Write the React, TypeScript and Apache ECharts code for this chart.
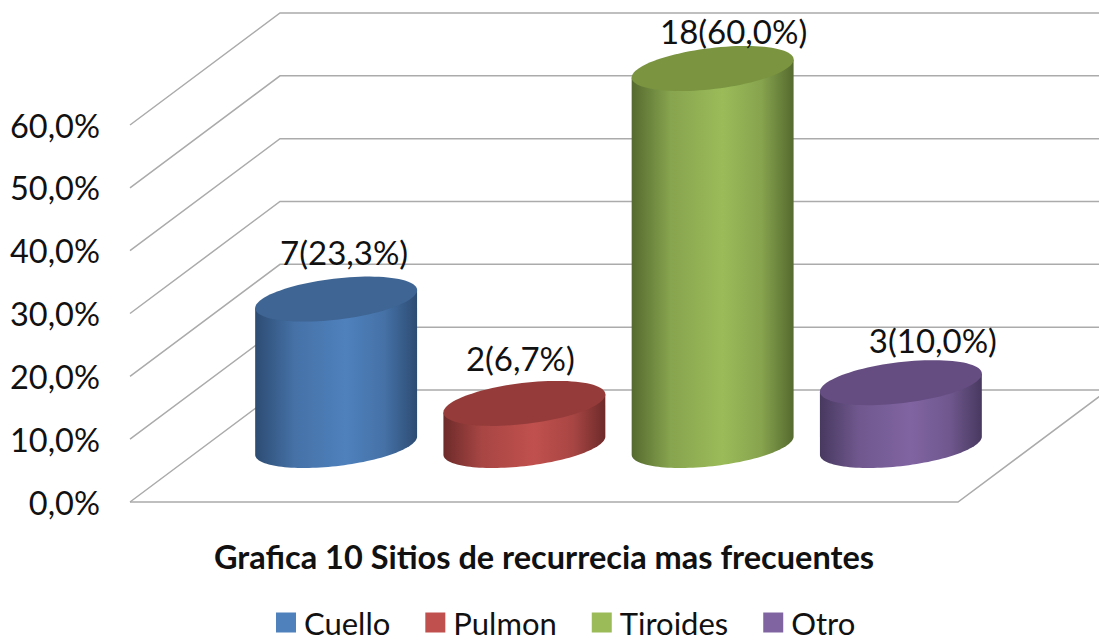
import React, { useEffect, useRef } from "react";
import * as echarts from "echarts";

const categories = ["Cuello", "Pulmon", "Tiroides", "Otro"];
const counts = [7, 2, 18, 3];
const percents = [23.3, 6.7, 60.0, 10.0];
const ticks = [0, 10, 20, 30, 40, 50, 60];
const titleText = "Grafica 10 Sitios de recurrecia mas frecuentes";

const swatches = ["#4f81bd", "#c0504d", "#9bbb59", "#8064a2"];
const palettes = [
  { top: "#3e6593", edge: "#2d4c73", shade: "#4571a6", mid: "#4f81bd" },
  { top: "#953c3a", edge: "#6d2b2a", shade: "#a84644", mid: "#c0504d" },
  { top: "#7a9440", edge: "#556a2f", shade: "#87a44e", mid: "#9bbb59" },
  { top: "#654d81", edge: "#483960", shade: "#70588e", mid: "#8064a2" },
];
const labelNudge = [8, -4, 21, 32];
const labelRise = [47, 45, 38, 43];

const FONT = "Lato, sans-serif";
const RX = 81.5;
const RY = 20.5;
const TILT = (6.8 * Math.PI) / 180;
const DEPTH_Y = -56.5;
const WALL_DX = 150;
const WALL_DY = -112;

function ellipsePoint(cx: number, cy: number, t: number) {
  return [
    cx + RX * Math.cos(t) * Math.cos(TILT) + RY * Math.sin(t) * Math.sin(TILT),
    cy - RX * Math.cos(t) * Math.sin(TILT) + RY * Math.sin(t) * Math.cos(TILT),
  ];
}
function arc(cx: number, cy: number, from: number, to: number, n = 64) {
  const out: number[][] = [];
  for (let i = 0; i <= n; i++) out.push(ellipsePoint(cx, cy, from + ((to - from) * i) / n));
  return out;
}

function cylinder(index: number) {
  return (_p: any, api: any) => {
    const cat = api.value(0);
    const val = api.value(1);
    const [cx, y0] = api.coord([cat, 0]);
    const [, yv] = api.coord([cat, val]);
    const bottomY = y0 + DEPTH_Y;
    const topY = yv + DEPTH_Y;
    const t0 = Math.atan((RY / RX) * Math.tan(TILT));
    const front = arc(cx, bottomY, t0, t0 + Math.PI);
    const pr = ellipsePoint(cx, topY, t0);
    const pl = ellipsePoint(cx, topY, t0 + Math.PI);
    const c = palettes[index];
    const text = `${counts[index]}(${percents[index].toFixed(1).replace(".", ",")}%)`;
    return {
      type: "group",
      children: [
        {
          type: "polygon",
          shape: { points: [pr, ...front, pl] },
          style: {
            fill: new echarts.graphic.LinearGradient(0, 0, 1, 0, [
              { offset: 0, color: c.edge },
              { offset: 0.24, color: c.shade },
              { offset: 0.56, color: c.mid },
              { offset: 0.8, color: c.shade },
              { offset: 1, color: c.edge },
            ]),
          },
        },
        {
          type: "polygon",
          shape: { points: arc(cx, topY, 0, Math.PI * 2, 96) },
          style: { fill: c.top },
        },
        {
          type: "text",
          x: cx + labelNudge[index],
          y: topY - labelRise[index],
          style: {
            text,
            font: `33px ${FONT}`,
            fill: "#111",
            textAlign: "center",
            textVerticalAlign: "middle",
          },
        },
      ],
    };
  };
}

function wallItem(params: any, api: any) {
  const v = api.value(1);
  const [, y] = api.coord([0, v]);
  const left = params.coordSys.x - 112;
  const stroke = "#ababab";
  const children: any[] = [
    {
      type: "polyline",
      shape: {
        points: [
          [left, y],
          [left + WALL_DX, y + WALL_DY],
          [1099, y + WALL_DY],
        ],
      },
      style: { stroke, lineWidth: 1.5, fill: "none" },
    },
  ];
  if (v === 0) {
    children.push({
      type: "polyline",
      shape: {
        points: [
          [left, y],
          [left + 828, y],
          [left + 828 + WALL_DX, y + WALL_DY],
        ],
      },
      style: { stroke, lineWidth: 1.5, fill: "none" },
    });
  }
  return { type: "group", children };
}

export default function App() {
  const ref = useRef<HTMLDivElement>(null);
  useEffect(() => {
    const chart = echarts.init(ref.current!, null, { renderer: "svg" });
    chart.setOption({
      animation: false,
      backgroundColor: "#ffffff",
      title: {
        text: titleText,
        left: 209,
        top: 535,
        textStyle: { fontFamily: FONT, fontWeight: "bold", fontSize: 32.5, color: "#111" },
      },
      legend: {
        data: categories,
        left: 271,
        top: 602,
        itemWidth: 20,
        itemHeight: 20,
        itemGap: 35,
        icon: "rect",
        textStyle: {
          fontFamily: FONT,
          fontSize: 31,
          color: "#111",
          padding: [0, 0, 0, 3],
        },
      },
      grid: { left: 242, top: 125, width: 753, height: 377 },
      xAxis: { type: "category", data: categories, show: false },
      yAxis: {
        type: "value",
        min: 0,
        max: 60,
        interval: 10,
        offset: 112,
        axisLine: { show: false },
        axisTick: { show: false },
        splitLine: { show: false },
        axisLabel: {
          margin: 30,
          fontFamily: FONT,
          fontSize: 32.5,
          color: "#111",
          formatter: (v: number) => `${v.toFixed(1).replace(".", ",")}%`,
        },
      },
      series: [
        {
          type: "custom",
          name: "wall",
          z: 1,
          silent: true,
          clip: false,
          renderItem: wallItem,
          data: ticks.map((t) => [0, t]),
        },
        ...categories.map((name, i) => ({
          type: "custom",
          name,
          z: 2,
          clip: false,
          itemStyle: { color: swatches[i] },
          renderItem: cylinder(i),
          data: [[i, percents[i]]],
        })),
      ],
    });
    return () => chart.dispose();
  }, []);
  return <div ref={ref} style={{ position: "absolute", left: 0, top: 0, width: 1099, height: 641 }} />;
}
